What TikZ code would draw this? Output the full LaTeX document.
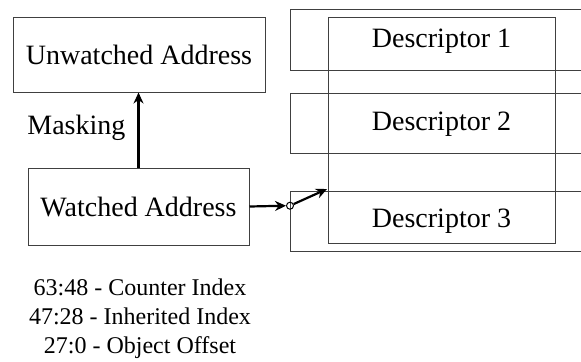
\documentclass[tikz,border=0pt]{standalone}
\usepackage{fontspec}
\setmainfont{Liberation Serif}
\usetikzlibrary{arrows.meta}
\tikzset{
  box/.style={draw=black!75, line width=0.5pt, inner sep=0pt, font=\fontsize{14}{16}\selectfont},
  lbl/.style={inner sep=0pt, font=\fontsize{14}{16}\selectfont},
  frame/.style={draw=black!75, line width=0.5pt},
  conn/.style={line width=1.1pt, -{Stealth[length=5.5pt,width=5pt]}},
}
\begin{document}
\begin{tikzpicture}[x=0.5pt,y=-0.5pt]
\useasboundingbox (0,0) rectangle (581,361);
% outer descriptor slots
\draw[frame] (581,9) -| (290,70) -- (581,70);
\draw[frame] (581,93) -| (290,153) -- (581,153);
\draw[frame] (581,191) -| (290,251) -- (581,251);
% inner descriptor box
\node[box, minimum width=113.5pt, minimum height=113pt] (desc) at (441.5,130) {};
\node[lbl] (d1) at (441.5,41) {Descriptor 1};
\node[lbl] (d2) at (441.5,124) {Descriptor 2};
\node[lbl] (d3) at (441.5,221) {Descriptor 3};
% address boxes
\node[box, minimum width=126pt, minimum height=37.5pt] (unw) at (139,54.5) {Unwatched Address};
\node[box, minimum width=110.5pt, minimum height=38.5pt] (wat) at (138.5,206.5) {Watched Address};
\node[lbl, anchor=west] (mask) at (27,128) {Masking};
\draw[conn] (wat.north) -- (wat.north |- unw.south);
% switch
\node[draw, circle, line width=0.5pt, inner sep=0pt, minimum size=3.5pt] (sw) at (290,205.7) {};
\coordinate (tgt) at (327,189);
\draw[conn] (wat.east) -- (sw.west);
\draw[conn] (sw) -- (tgt);
% legend
\node[align=center, inner sep=0pt, font=\fontsize{12}{14.5}\selectfont] (legend) at (140,318.5)
  {63:48 - Counter Index\\47:28 - Inherited Index\\27:0 - Object Offset};
\end{tikzpicture}
\end{document}
